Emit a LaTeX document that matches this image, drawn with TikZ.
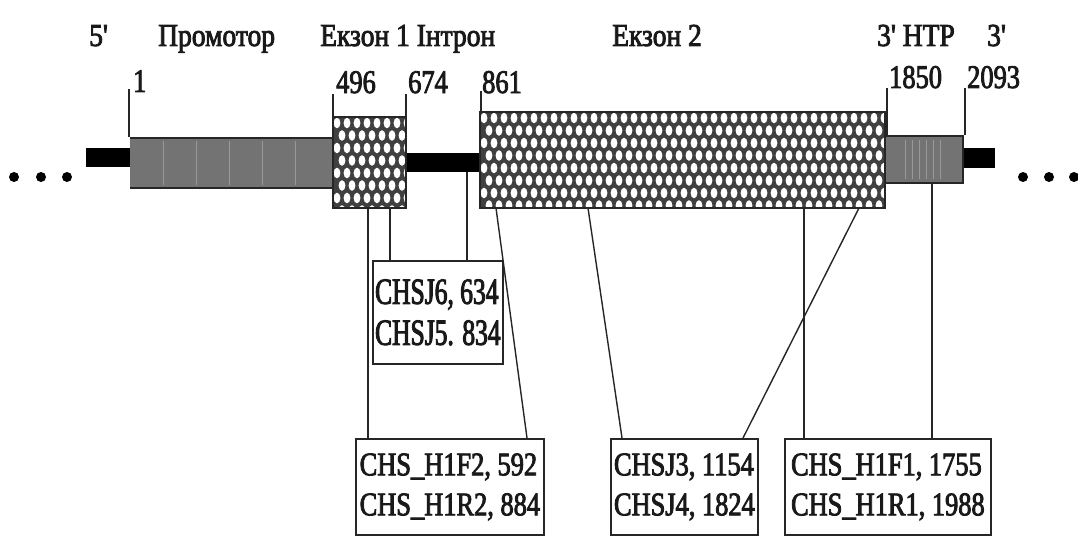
\documentclass[tikz,border=0pt]{standalone}
\usepackage{fontspec}
\newfontfamily\lab[FakeStretch=0.80,FakeBold=2.5]{Liberation Serif}
\newfontfamily\labt[FakeStretch=0.86,FakeBold=2.5]{Liberation Serif}
\newfontfamily\labb[FakeStretch=0.69,FakeBold=2.5]{Liberation Serif}
\newcommand\exonbox[4]{%
  \begin{scope}
    \clip (#1,#2) rectangle (#3,#4);
    \fill[black!75] (#1,#2) rectangle (#3,#4);
    \pgfmathtruncatemacro\ncol{(#3-#1)/10+1}
    \pgfmathtruncatemacro\nrow{(#4-#2)/12.5+1}
    \foreach \r in {0,...,\nrow}{
      \foreach \c in {0,...,\ncol}{
        \fill[white] ({#1+4+\c*10+mod(\r,2)*5},{#2+6+\r*12.5}) ellipse [x radius=3.4pt, y radius=5.3pt];
      }
    }
  \end{scope}
  \draw[line width=2pt, black!85] (#1,#2) rectangle (#3,#4);
}
\begin{document}
\begin{tikzpicture}[x=1pt,y=-1pt,
  conn/.style={line width=1.4pt, draw=black!85},
  tickline/.style={line width=1.4pt, draw=black!85},
  lbl/.style={inner sep=0pt, anchor=base west, font=\lab\fontsize{33}{40}\selectfont, text=black!90},
  tlbl/.style={lbl, font=\labt\fontsize{32}{40}\selectfont},
  pbox/.style={draw=black!85, line width=1.8pt, anchor=north west, align=left, inner sep=0pt, text=black!90, font=\lab\fontsize{33}{40}\selectfont},
  grayseg/.style={fill=black!55},
  dot/.style={circle, fill=black, inner sep=0pt, minimum size=10pt},
]
\useasboundingbox (0,0) rectangle (1078,535);

% dots
\node[dot] (dl1) at (14,177) {};
\node[dot] (dl2) at (41,177) {};
\node[dot] (dl3) at (67,177) {};
\node[dot] (dr1) at (1023,177) {};
\node[dot] (dr2) at (1049,177) {};
\node[dot] (dr3) at (1074,177) {};

% black stubs and intron
\fill[black] (86,148) rectangle (130,167);
\fill[black] (405,153) rectangle (481,172);
\fill[black] (962,148) rectangle (995,168);

% promoter
\fill[grayseg] (130,137) rectangle (333,189);
\foreach \xx in {163,196,229,262,295}{
  \draw[black!40, line width=0.8pt] (\xx,141) -- (\xx,185);
}
\draw[black!85, line width=2.5pt] (130,138) -- (333,138);
\draw[black!85, line width=2.5pt] (130,188) -- (333,188);

% 3' UTR
\fill[grayseg] (885,135) rectangle (963,184);
\foreach \xx in {905,912,919,926,933,940}{
  \draw[black!40, line width=0.8pt] (\xx,140) -- (\xx,179);
}
\draw[black!85, line width=2.5pt] (885,136) -- (963,136);
\draw[black!85, line width=2.5pt] (885,183) -- (963,183);
\draw[black!85, line width=2pt] (963,135) -- (963,184);

% exons
\exonbox{333}{117}{406}{208}
\exonbox{480}{112}{885}{208}

% ticks
\draw[tickline] (129,89) -- (129,137);
\draw[tickline] (333,94) -- (333,117);
\draw[tickline] (406,94) -- (406,117);
\draw[tickline] (481,91) -- (481,112);
\draw[tickline] (887,88) -- (887,135);
\draw[tickline] (965,88) -- (965,135);

% top labels
\node[tlbl] (l5) at (89,46) {5'};
\node[tlbl] (lprom) at (158,46) {Промотор};
\node[tlbl] (lex1) at (320,46) {Екзон 1 Інтрон};
\node[tlbl] (lex2) at (612,46) {Екзон 2};
\node[tlbl] (lutr) at (877,46) {3' НТР};
\node[tlbl] (l3) at (987,46) {3'};

% numbers
\node[lbl] (n1) at (133,92) {1};
\node[lbl] (n496) at (336,93) {496};
\node[lbl] (n674) at (408,93) {674};
\node[lbl] (n861) at (482,93) {861};
\node[lbl] (n1850) at (889,88) {1850};
\node[lbl] (n2093) at (967,88) {2093};

% primer boxes
\node[pbox, font=\labb\fontsize{37}{41}\selectfont, minimum width=130pt, minimum height=103pt] (bJ6) at (372,260) {CHSJ6, 634\\CHSJ5. 834};
\node[pbox, minimum width=188pt, minimum height=96pt] (bF2) at (355,438) {CHS\_H1F2, 592\\CHS\_H1R2, 884};
\node[pbox, minimum width=147pt, minimum height=96pt] (bJ3) at (610,438) {CHSJ3, 1154\\CHSJ4, 1824};
\node[pbox, minimum width=206pt, minimum height=96pt] (bF1) at (784,438) {CHS\_H1F1, 1755\\CHS\_H1R1, 1988};

% anchor points on the gene
\coordinate (g368) at (368,208);
\coordinate (g390) at (390,208);
\coordinate (g467) at (467,172);
\coordinate (g496) at (496,208);
\coordinate (g588) at (588,208);
\coordinate (g804) at (804,208);
\coordinate (g859) at (859,208);
\coordinate (g932) at (932,184);

% connectors
\draw[conn] (g368) -- (g368 |- bF2.north);
\draw[conn] (g390) -- (g390 |- bJ6.north);
\draw[conn] (g467) -- (g467 |- bJ6.north);
\draw[conn] (g496) -- ([xshift=172pt]bF2.north west);
\draw[conn] (g588) -- ([xshift=12pt]bJ3.north west);
\draw[conn] (g859) -- ([xshift=133pt]bJ3.north west);
\draw[conn] (g804) -- (g804 |- bF1.north);
\draw[conn] (g932) -- (g932 |- bF1.north);
\end{tikzpicture}
\end{document}
